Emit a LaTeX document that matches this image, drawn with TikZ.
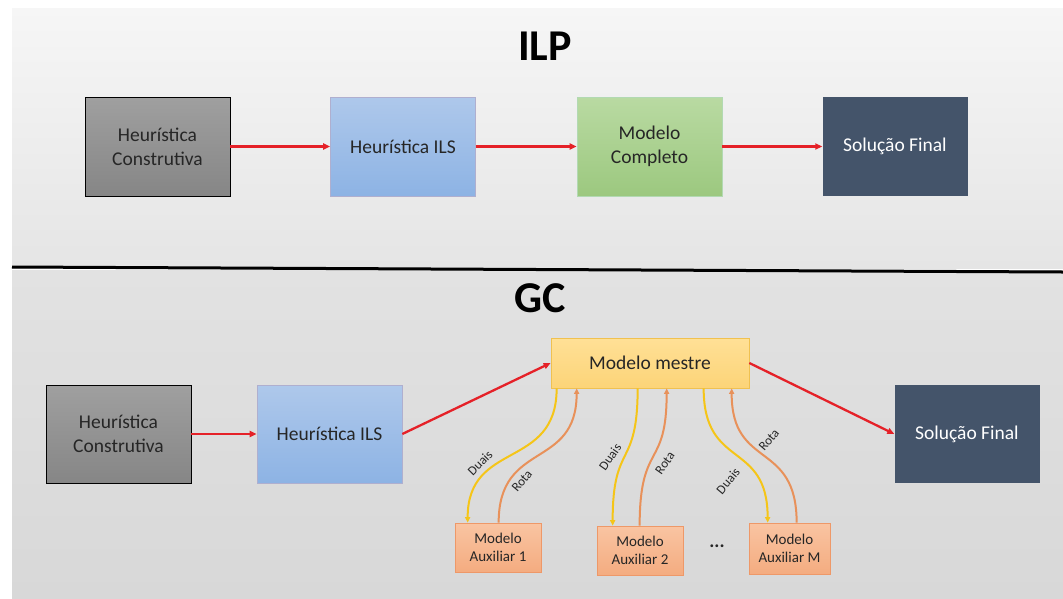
\documentclass[tikz,border=0pt]{standalone}
\usepackage{fontspec}
\setmainfont{Carlito}
\usetikzlibrary{arrows.meta,calc}

\definecolor{txt}{HTML}{262626}
\definecolor{redline}{HTML}{E52128}
\definecolor{duaiscol}{HTML}{F5C518}
\definecolor{rotacol}{HTML}{E8915A}
\definecolor{slate}{HTML}{44546A}

\begin{document}
\begin{tikzpicture}[x=1pt,y=-1pt,
  box/.style={rectangle,inner sep=0pt,align=center,text=txt,
    font=\fontsize{19.5}{24}\selectfont,minimum width=145pt,minimum height=99pt},
  graybox/.style={box,draw=black,line width=0.8pt,top color=gray!75,bottom color=gray!105!black},
  bluebox/.style={box,draw=blue!25!gray!50,line width=0.6pt,top color={rgb,255:red,174;green,200;blue,235},bottom color={rgb,255:red,141;green,179;blue,228}},
  greenbox/.style={box,draw=green!50!black!30,line width=0.6pt,top color={rgb,255:red,185;green,218;blue,162},bottom color={rgb,255:red,156;green,200;blue,127}},
  finalbox/.style={box,fill=slate,text=white},
  masterbox/.style={rectangle,inner sep=0pt,draw={rgb,255:red,240;green,193;blue,80},line width=0.7pt,
    top color={rgb,255:red,255;green,224;blue,150},bottom color={rgb,255:red,252;green,212;blue,120},
    text=txt,font=\fontsize{19.5}{23}\selectfont,minimum width=198pt,minimum height=50pt},
  auxbox/.style={rectangle,inner sep=0pt,align=center,draw={rgb,255:red,238;green,152;blue,104},line width=0.7pt,
    top color={rgb,255:red,249;green,196;blue,162},bottom color={rgb,255:red,244;green,172;blue,128},
    text=txt,font=\fontsize{15}{18}\selectfont,minimum width=86pt,minimum height=49pt},
  flow/.style={draw=redline,line width=2.3pt,-{Triangle[length=7pt,width=6pt]}},
  duais/.style={draw=duaiscol,line width=2pt,-{Triangle[length=5.5pt,width=5pt]}},
  rota/.style={draw=rotacol,line width=2pt,-{Triangle[length=5.5pt,width=5pt]}},
  tag/.style={font=\fontsize{13}{14}\selectfont,text=txt,inner sep=0pt},
  heading/.style={font=\fontsize{44}{48}\selectfont\bfseries,text=black}
]
\useasboundingbox (0,0) rectangle (1063,598);
\fill[white] (0,0) rectangle (1063,598);

% panels
\shade[top color={rgb,255:red,246;green,246;blue,246},bottom color={rgb,255:red,229;green,229;blue,229}]
  (12,8) rectangle (1063,268);
\shade[top color={rgb,255:red,226;green,226;blue,226},bottom color={rgb,255:red,216;green,216;blue,216}]
  (12,270) rectangle (1063,598);
\draw[line width=3pt,black] (12,267) -- (1063,272);

% titles
\node[heading] (tilp) at (545,46) {ILP};
\node[heading] (tgc) at (540,298) {GC};

% ILP flow
\node[graybox] (hc1) at (157.5,146.5) {Heurística\\Construtiva};
\node[bluebox] (ils1) at (403,146.5) {Heurística ILS};
\node[greenbox] (mc1) at (649.5,146.5) {Modelo\\Completo};
\node[finalbox] (sf1) at (895,146.5) {Solução Final};
\draw[flow] (hc1) -- (ils1);
\draw[flow] (ils1) -- (mc1);
\draw[flow] (mc1) -- (sf1);

% GC flow
\node[graybox,minimum height=98pt] (hc2) at (118.5,434) {Heurística\\Construtiva};
\node[bluebox,minimum height=98pt] (ils2) at (329.5,434) {Heurística ILS};
\node[masterbox] (mestre) at (650,363) {Modelo mestre};
\node[finalbox,minimum height=98pt] (sf2) at (967,434) {Solução Final};
\node[auxbox] (aux1) at (498,547.5) {Modelo\\Auxiliar 1};
\node[auxbox] (aux2) at (640,550.5) {Modelo\\Auxiliar 2};
\node[auxbox,minimum width=81pt,minimum height=51pt] (auxm) at (789.5,548.5) {Modelo\\Auxiliar M};
\node[font=\fontsize{19}{20}\selectfont\bfseries,text=txt] (dots) at (717,546) {...};

\draw[flow] (hc2) -- (ils2);
\draw[flow] (ils2.east) -- (mestre.west);
\draw[flow] (mestre.east) -- (sf2.west);

% duals go down to each subproblem, routes come back up
\draw[duais] ([xshift=6pt]mestre.south west) .. controls +(0,82) and +(0,-83) .. ([xshift=13pt]aux1.north west);
\draw[rota] ([xshift=44pt]aux1.north west) .. controls +(0,-83) and +(0,82) .. ([xshift=26pt]mestre.south west);
\draw[duais] ([xshift=87pt]mestre.south west) .. controls +(0,82) and +(0,-85) .. ([xshift=16pt]aux2.north west);
\draw[rota] ([xshift=43pt]aux2.north west) .. controls +(0,-85) and +(0,82) .. ([xshift=116pt]mestre.south west);
\draw[duais] ([xshift=153pt]mestre.south west) .. controls +(0,82) and +(0,-83) .. ([xshift=19pt]auxm.north west);
\draw[rota] ([xshift=48pt]auxm.north west) .. controls +(0,-83) and +(0,82) .. ([xshift=181pt]mestre.south west);

\node[tag,rotate=45] (d1) at (480,463) {Duais};
\node[tag,rotate=50] (r1) at (522,481) {Rota};
\node[tag,rotate=55] (d2) at (610,457) {Duais};
\node[tag,rotate=55] (r2) at (665,463) {Rota};
\node[tag,rotate=50] (d3) at (728,481) {Duais};
\node[tag,rotate=50] (r3) at (769,440) {Rota};
\end{tikzpicture}
\end{document}
